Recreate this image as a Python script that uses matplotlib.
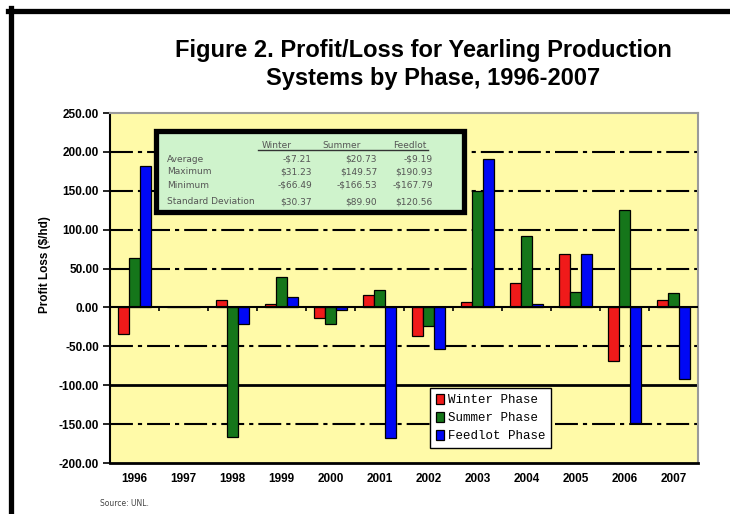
import numpy as np
import matplotlib
matplotlib.use('Agg')
import matplotlib.pyplot as plt
from matplotlib.patches import Rectangle
from matplotlib.lines import Line2D

# data ($/hd)
years = ['1996', '1997', '1998', '1999', '2000', '2001', '2002', '2003', '2004', '2005', '2006', '2007']
winter = [-34, 0, 10, 5, -14, 16, -37, 7, 31, 69, -69, 10]
summer = [64, 0, -166.53, 39, -21, 23, -24, 149.57, 92, 20, 125, 18]
feedlot = [182, 0, -21, 13, -3, -167.79, -54, 190.93, 5, 69, -148, -92]

yticks = [-200, -150, -100, -50, 0, 50, 100, 150, 200, 250]
grid_dashdot = [-150, -50, 50, 100, 150, 200]

stat_cols = ['Winter', 'Summer', 'Feedlot']
stat_rows = ['Average', 'Maximum', 'Minimum', 'Standard Deviation']
stat_vals = [['-$7.21', '$20.73', '-$9.19'],
             ['$31.23', '$149.57', '$190.93'],
             ['-$66.49', '-$166.53', '-$167.79'],
             ['$30.37', '$89.90', '$120.56']]

W, H = 730, 514
narrow = ['Liberation Sans Narrow', 'Liberation Sans', 'DejaVu Sans']


def fx(x):
    return x / W


def fy(y):
    return 1 - y / H


fig = plt.figure(figsize=(7.3, 5.14), dpi=100)
fig.patch.set_facecolor('white')

# outer black frame (top and left edges visible)
fig.add_artist(Line2D([fx(8), 1], [fy(11), fy(11)], color='black', lw=3.8))
fig.add_artist(Line2D([fx(11), fx(11)], [fy(8), 0], color='black', lw=3.8))

ax = fig.add_axes([fx(110), fy(463), 588 / W, 350 / H])
ax.set_facecolor('#FFFAA8')

x = np.arange(len(years))
bw = 0.23
ax.bar(x - bw, winter, bw, color='#F01A1A', edgecolor='black', lw=0.9, zorder=3, label='Winter Phase')
ax.bar(x, summer, bw, color='#15761A', edgecolor='black', lw=0.9, zorder=3, label='Summer Phase')
ax.bar(x + bw, feedlot, bw, color='#0008F5', edgecolor='black', lw=0.9, zorder=3, label='Feedlot Phase')

for g in grid_dashdot:
    ax.axhline(g, color='black', lw=1.5, dashes=(11, 2.4, 2, 2.4), zorder=1)
ax.axhline(-100, color='black', lw=2, zorder=1)
ax.axhline(0, color='black', lw=1.5, zorder=4)
ax.vlines(x[:-1] + 0.5, -5, 0, color='black', lw=1.2, zorder=4)

ax.set_xlim(-0.5, len(years) - 0.5)
ax.set_ylim(-200, 250)
ax.set_yticks(yticks)
ax.set_yticklabels([f'{v:.2f}' for v in yticks], fontfamily=narrow, fontweight='bold', fontsize=8.5)
ax.set_xticks(x)
ax.set_xticklabels(years, fontfamily=narrow, fontweight='bold', fontsize=8.5)
ax.tick_params(axis='x', length=0, pad=7)
ax.tick_params(axis='y', length=5, width=1.2, direction='out', pad=3)

ax.spines['left'].set_linewidth(1.5)
ax.spines['bottom'].set_linewidth(2)
for s in ['top', 'right']:
    ax.spines[s].set_color('#9a9a9a')
    ax.spines[s].set_linewidth(1.5)

fig.text(fx(45), fy(265), 'Profit Loss ($/hd)', rotation=90, ha='center', va='center',
         fontfamily=narrow, fontweight='bold', fontsize=8.5)

fig.text(fx(423), fy(50), 'Figure 2. Profit/Loss for Yearling Production', ha='center', va='center',
         fontfamily=narrow, fontweight='bold', fontsize=17)
fig.text(fx(433), fy(78), 'Systems by Phase, 1996-2007', ha='center', va='center',
         fontfamily=narrow, fontweight='bold', fontsize=17)

fig.text(fx(100), fy(503), 'Source: UNL.', ha='left', va='center', fontsize=5.5, color='#444444')

# statistics box
fig.add_artist(Rectangle((fx(156), fy(212)), 308 / W, 81 / H, facecolor='#CFF3CC',
                         edgecolor='black', lw=3.8, zorder=5))
col_x = [312, 377, 433]
head_x = [277, 342, 410]
for cx, c in zip(head_x, stat_cols):
    fig.text(fx(cx), fy(145), c, ha='center', va='center', fontsize=6.5, color='#555555', zorder=6)
fig.add_artist(Line2D([fx(258), fx(428)], [fy(150), fy(150)], color='#333333', lw=1, zorder=6))
row_y = [159, 172, 185, 202]
for ry, name, vals in zip(row_y, stat_rows, stat_vals):
    fig.text(fx(167), fy(ry), name, ha='left', va='center', fontsize=6.5, color='#555555', zorder=6)
    for cx, v in zip(col_x, vals):
        fig.text(fx(cx), fy(ry), v, ha='right', va='center', fontsize=6.5, color='#555555', zorder=6)

leg = ax.legend(loc='upper left', bbox_to_anchor=(fx(430), fy(388)), bbox_transform=fig.transFigure,
                fancybox=False, edgecolor='black', framealpha=1,
                prop={'family': ['Liberation Mono', 'DejaVu Sans Mono'], 'size': 9},
                handlelength=0.7, handleheight=0.9, handletextpad=0.25, labelspacing=0.45,
                borderpad=0.45, borderaxespad=0)
leg.get_frame().set_linewidth(1)
leg.set_zorder(6)

fig.savefig('out.png', dpi=100)
